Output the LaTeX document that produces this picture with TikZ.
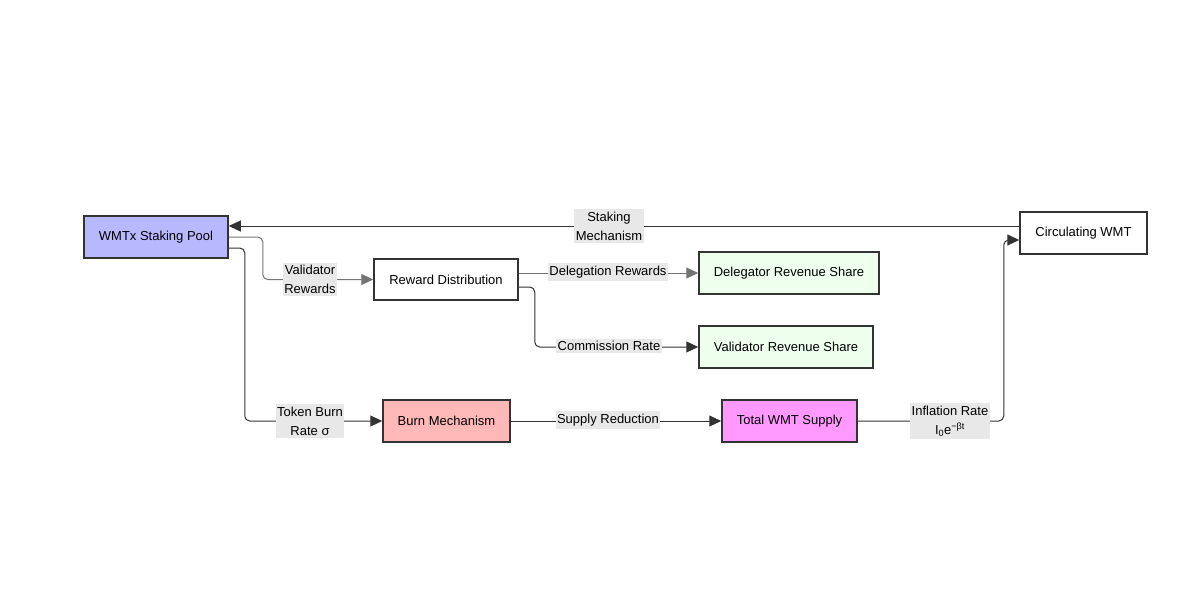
\documentclass[tikz,border=0pt]{standalone}
\usepackage{fontspec}
\setmainfont{Liberation Sans}
\usetikzlibrary{arrows.meta}
\definecolor{poolfill}{HTML}{B8B8FF}
\definecolor{sharefill}{HTML}{EEFFEE}
\definecolor{burnfill}{HTML}{FFB8B8}
\definecolor{supplyfill}{HTML}{FF99FF}
\definecolor{boxline}{HTML}{333333}
\definecolor{lblfill}{HTML}{E8E8E8}
\tikzset{
  box/.style={draw=boxline, line width=1.5pt, minimum height=42pt, inner sep=0pt,
    font=\fontsize{13}{16}\selectfont, text=black},
  lbl/.style={fill=lblfill, inner xsep=1.5pt, inner ysep=2.5pt, align=center,
    font=\fontsize{13}{19}\selectfont, text=black},
  flow/.style={draw=boxline, line width=1pt, rounded corners=5pt,
    -{Triangle[length=12pt,width=11pt]}},
  softflow/.style={flow, draw=black!55},
}
\begin{document}
\begin{tikzpicture}[x=1pt, y=-1pt]
\useasboundingbox (0,0) rectangle (1195,611);

% stages
\node[box, fill=poolfill, minimum width=144pt] (pool) at (156,237) {WMTx Staking Pool};
\node[box, fill=white, minimum width=144pt, minimum height=41pt] (rd) at (446,279.5) {Reward Distribution};
\node[box, fill=sharefill, minimum width=180pt] (dl) at (789,273) {Delegator Revenue Share};
\node[box, fill=sharefill, minimum width=174pt] (vr) at (786,347) {Validator Revenue Share};
\node[box, fill=burnfill, minimum width=127pt] (burn) at (446.5,421) {Burn Mechanism};
\node[box, fill=supplyfill, minimum width=135pt] (tws) at (789.5,421) {Total WMT Supply};
\node[box, fill=white, minimum width=127pt] (circ) at (1083.5,233) {Circulating WMT};

% flows
\draw[flow] ([yshift=7pt]circ.west) -- ([yshift=11pt]pool.east);
\draw[softflow] (pool.east) -- ++(34,0) |- (rd.west);
\draw[flow] ([yshift=-11pt]pool.east) -- ++(16,0) |- (burn.west);
\draw[softflow] (rd.east |- dl.west) -- (dl.west);
\draw[flow] ([yshift=-7.5pt]rd.east) -- ++(16,0) |- (vr.west);
\draw[flow] (burn.east) -- (tws.west);
\draw[flow] (tws.east) -- ++(146,0) |- ([yshift=-7pt]circ.west);

% flow labels
\node[lbl] (lstake) at (609,226) {Staking\\Mechanism};
\node[lbl] (lval) at (310,279.5) {Validator\\Rewards};
\node[lbl] (ldel) at (608,272) {Delegation Rewards};
\node[lbl] (lcom) at (609,346) {Commission Rate};
\node[lbl] (lburn) at (310,421) {Token Burn\\Rate σ};
\node[lbl] (lsup) at (608,420) {Supply Reduction};
\node[lbl] (linf) at (950,421) {Inflation Rate\\I\textsubscript{0}e\textsuperscript{−βt}};
\end{tikzpicture}
\end{document}
